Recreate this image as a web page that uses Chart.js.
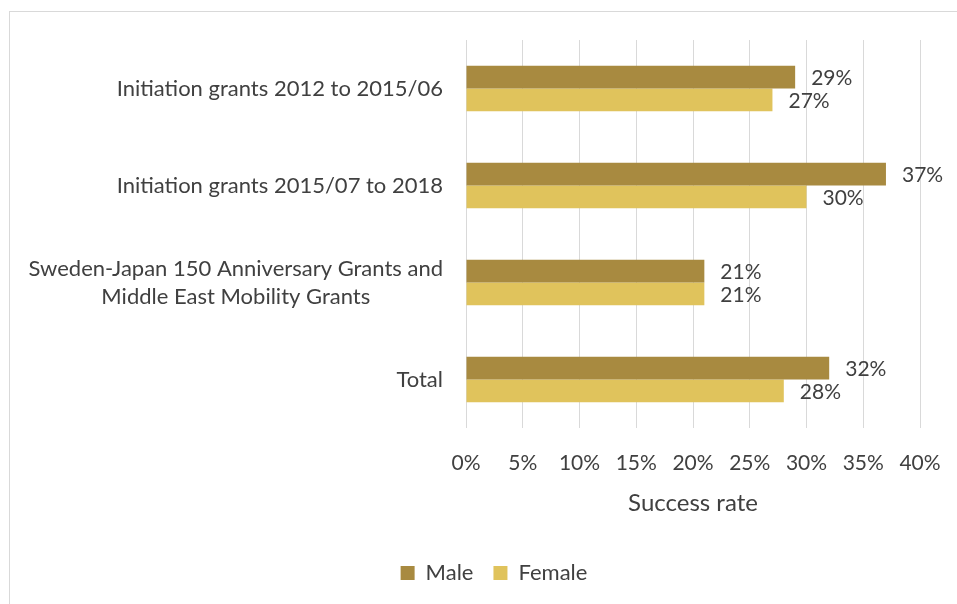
<!DOCTYPE html>
<html>
<head>
<meta charset="utf-8">
<title>Success rate by grant type</title>
<script src="https://cdn.jsdelivr.net/npm/chart.js@4.4.0/dist/chart.umd.min.js"></script>
<style>
    html, body { margin: 0; padding: 0; background: #fff; }
    #wrap { position: relative; width: 957px; height: 604px; overflow: hidden; }
    #frame {
        position: absolute; left: 9px; top: 11px; width: 1000px; height: 700px;
        border-left: 1px solid #d9d9d9; border-top: 1px solid #d9d9d9;
    }
    canvas { position: absolute; left: 0; top: 0; }
</style>
</head>
<body>
<div id="wrap">
    <div id="frame"></div>
    <canvas id="chart" width="957" height="604"></canvas>
</div>
<script>
// ============ Data ============

const categories = [
    ['Initiation grants 2012 to 2015/06'],
    ['Initiation grants 2015/07 to 2018'],
    ['Sweden-Japan 150 Anniversary Grants and', 'Middle East Mobility Grants'],
    ['Total']
];
const maleRates = [29, 37, 21, 32];
const femaleRates = [27, 30, 21, 28];
const xTickValues = [0, 5, 10, 15, 20, 25, 30, 35, 40];
const axisTitle = 'Success rate';

// ============ Style ============

const MALE_COLOR = '#a88a40';
const FEMALE_COLOR = '#e0c35c';
const TEXT_COLOR = '#404040';
const GRID_COLOR = '#d9d9d9';
const FONT_FAMILY = 'Lato, "Open Sans", sans-serif';
const NUM_SIZE = 21;       // ticks and value labels
const LABEL_SIZE = 22;     // category names and legend
const TITLE_SIZE = 24;
const LABEL_RIGHT = 443;   // right edge of the category labels
const LINE_HEIGHT = 28;
const PAD_LEFT = 68;
const PLOT_LEFT = 466;

// ============ Plugins ============

// Category names, multi-line ones centred on their widest line
const categoryLabels = {
    id: 'categoryLabels',
    afterDraw(chart) {
        const yScale = chart.scales.y;
        const ctx = chart.ctx;
        ctx.save();
        ctx.font = `${LABEL_SIZE}px ${FONT_FAMILY}`;
        ctx.fillStyle = TEXT_COLOR;
        ctx.textAlign = 'center';
        ctx.textBaseline = 'middle';
        categories.forEach((lines, i) => {
            const cy = yScale.getPixelForValue(i);
            const w = Math.max(...lines.map(l => ctx.measureText(l).width));
            const cx = LABEL_RIGHT - w / 2;
            lines.forEach((line, j) => {
                ctx.fillText(line, cx, cy + (j - (lines.length - 1) / 2) * LINE_HEIGHT);
            });
        });
        ctx.restore();
    }
};

// Value labels at the end of each bar
const valueLabels = {
    id: 'valueLabels',
    afterDatasetsDraw(chart) {
        const ctx = chart.ctx;
        ctx.save();
        ctx.font = `${NUM_SIZE}px ${FONT_FAMILY}`;
        ctx.fillStyle = TEXT_COLOR;
        ctx.textAlign = 'left';
        ctx.textBaseline = 'middle';
        chart.data.datasets.forEach((ds, di) => {
            chart.getDatasetMeta(di).data.forEach((bar, i) => {
                ctx.fillText(`${ds.data[i]}%`, bar.x + 16, bar.y + 1);
            });
        });
        ctx.restore();
    }
};

// ============ Chart ============

new Chart(document.getElementById('chart'), {
    type: 'bar',
    data: {
        labels: categories.map(c => c.join(' ')),
        datasets: [
            { label: 'Male', data: maleRates, backgroundColor: MALE_COLOR },
            { label: 'Female', data: femaleRates, backgroundColor: FEMALE_COLOR }
        ]
    },
    options: {
        indexAxis: 'y',
        responsive: false,
        animation: false,
        devicePixelRatio: 1,
        layout: { padding: { top: 40, right: 37, bottom: 10, left: PAD_LEFT } },
        datasets: {
            bar: { categoryPercentage: 0.47, barPercentage: 1 }
        },
        plugins: {
            legend: {
                position: 'bottom',
                labels: {
                    color: TEXT_COLOR,
                    font: { family: FONT_FAMILY, size: LABEL_SIZE },
                    boxWidth: 14,
                    boxHeight: 14,
                    padding: 20
                }
            },
            tooltip: { enabled: false }
        },
        scales: {
            x: {
                min: 0,
                max: 40,
                afterBuildTicks: (scale) => {
                    scale.ticks = xTickValues.map(v => ({ value: v }));
                },
                grid: { color: GRID_COLOR, drawTicks: false },
                border: { display: false },
                ticks: {
                    color: TEXT_COLOR,
                    font: { family: FONT_FAMILY, size: NUM_SIZE },
                    padding: 23,
                    maxRotation: 0,
                    callback: (val) => `${val}%`
                },
                title: {
                    display: true,
                    text: axisTitle,
                    color: TEXT_COLOR,
                    font: { family: FONT_FAMILY, size: TITLE_SIZE },
                    padding: { top: 0, bottom: 24 }
                },
                afterFit: (scale) => {
                    scale.height = 114;
                    scale.paddingLeft = 0;
                    scale.paddingRight = 0;
                }
            },
            y: {
                grid: { display: false },
                border: { display: false },
                ticks: { display: false },
                afterFit: (scale) => { scale.width = PLOT_LEFT - PAD_LEFT; }
            }
        }
    },
    plugins: [categoryLabels, valueLabels]
});
</script>
</body>
</html>
